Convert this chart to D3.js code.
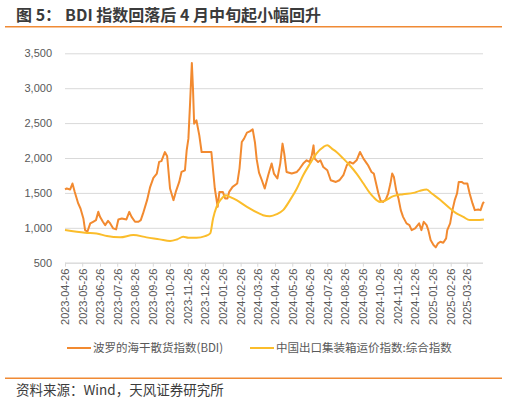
<!DOCTYPE html>
<html>
<head>
<meta charset="utf-8">
<script src="https://cdn.jsdelivr.net/npm/d3@7"></script>
<style>
  html, body { margin: 0; padding: 0; background: #ffffff; }
  svg { display: block; }
</style>
</head>
<body>
<svg id="chart" width="508" height="401"></svg>
<script>
// ---------------- data ----------------
const titlePrefix = "图 5：";
const titleMain = "BDI 指数回落后 4 月中旬起小幅回升";
const sourceText = "资料来源：Wind，天风证券研究所";
const seriesNames = ["波罗的海干散货指数(BDI)", "中国出口集装箱运价指数:综合指数"];

const bdiDates = [
  "2023-04-26","2023-04-29","2023-05-05","2023-05-09","2023-05-13","2023-05-19","2023-05-23","2023-05-28",
  "2023-05-31","2023-06-04","2023-06-09","2023-06-14","2023-06-19","2023-06-23","2023-06-26","2023-07-01",
  "2023-07-05","2023-07-10","2023-07-13","2023-07-19","2023-07-24","2023-07-28","2023-08-03","2023-08-11",
  "2023-08-16","2023-08-20","2023-08-26","2023-09-01","2023-09-05","2023-09-09","2023-09-16","2023-09-21",
  "2023-09-27","2023-10-03","2023-10-07","2023-10-11","2023-10-17","2023-10-21","2023-10-26","2023-11-01",
  "2023-11-05","2023-11-11","2023-11-15","2023-11-21","2023-11-24","2023-11-27","2023-11-30","2023-12-03",
  "2023-12-05","2023-12-07","2023-12-11","2023-12-16","2023-12-20","2024-01-06","2024-01-12","2024-01-17",
  "2024-01-20","2024-01-26","2024-01-30","2024-02-03","2024-02-06","2024-02-12","2024-02-20","2024-02-24",
  "2024-02-28","2024-03-03","2024-03-08","2024-03-13","2024-03-18","2024-03-22","2024-03-25","2024-03-29",
  "2024-04-03","2024-04-08","2024-04-14","2024-04-20","2024-04-24","2024-04-30","2024-05-05","2024-05-09",
  "2024-05-12","2024-05-16","2024-05-25","2024-06-03","2024-06-08","2024-06-14","2024-06-20","2024-06-25",
  "2024-06-29","2024-07-02","2024-07-04","2024-07-10","2024-07-14","2024-07-19","2024-07-26","2024-08-01",
  "2024-08-10","2024-08-16","2024-08-23","2024-08-29","2024-09-03","2024-09-09","2024-09-15","2024-09-21",
  "2024-09-27","2024-10-03","2024-10-05","2024-10-11","2024-10-15","2024-10-19","2024-10-23","2024-10-27",
  "2024-10-31","2024-11-05","2024-11-09","2024-11-13","2024-11-16","2024-11-19","2024-11-23","2024-11-27",
  "2024-12-01","2024-12-05","2024-12-11","2024-12-16","2024-12-20","2024-12-26","2025-01-02","2025-01-06",
  "2025-01-10","2025-01-15","2025-01-18","2025-01-22","2025-01-27","2025-01-31","2025-02-04","2025-02-08",
  "2025-02-13","2025-02-18","2025-02-20","2025-02-25","2025-03-01","2025-03-05","2025-03-09","2025-03-12",
  "2025-03-17","2025-03-21","2025-03-27","2025-03-31","2025-04-05","2025-04-09","2025-04-15","2025-04-19",
  "2025-04-23","2025-04-25"
];
const bdiValues = [
  1550,1563,1549,1634,1514,1349,1277,1134,
  967,943,1063,1086,1110,1229,1157,1086,
  1039,1100,1071,991,977,1120,1134,1120,
  1229,1157,1086,1086,1110,1206,1396,1575,
  1715,1777,1945,1955,2085,2025,1563,1396,
  1514,1657,1800,1824,2110,2277,2800,3360,
  2991,2491,2539,2324,2086,2086,1563,1300,
  1514,1514,1420,1420,1514,1586,1634,1849,
  2229,2277,2363,2381,2410,2220,1980,1790,
  1681,1563,1753,1920,1777,1706,1920,2206,
  2063,1800,1777,1800,1849,1920,1967,1943,
  2039,2181,1991,1943,1967,1871,1824,1681,
  1657,1681,1753,1896,1943,1920,1967,2086,
  1991,1920,1896,1800,1777,1634,1491,1386,
  1371,1406,1491,1634,1777,1729,1539,1420,
  1253,1157,1063,1039,967,991,1063,967,
  1086,1039,967,824,753,720,777,800,
  786,849,967,1063,1253,1396,1491,1657,
  1657,1634,1634,1491,1349,1253,1263,1253,
  1349,1371
];

const ccfiDates = [
  "2023-04-26","2023-05-31","2023-06-20","2023-07-08","2023-07-31","2023-08-23","2023-09-15","2023-10-08",
  "2023-10-26","2023-11-07","2023-11-18","2023-11-27","2023-12-11","2023-12-26","2024-01-04","2024-01-09",
  "2024-01-15","2024-01-24","2024-01-31","2024-02-07","2024-02-19","2024-03-08","2024-03-29","2024-04-05",
  "2024-04-17","2024-04-29","2024-05-10","2024-05-22","2024-06-03","2024-06-14","2024-06-26","2024-07-07",
  "2024-07-19","2024-07-26","2024-08-03","2024-08-11","2024-08-23","2024-09-03","2024-09-15","2024-09-27",
  "2024-10-08","2024-10-14","2024-10-26","2024-11-03","2024-11-18","2024-12-05","2024-12-23","2025-01-03",
  "2025-01-15","2025-01-24","2025-02-07","2025-02-25","2025-03-08","2025-03-20","2025-03-31","2025-04-12",
  "2025-04-25"
];
const ccfiValues = [
  967,929,920,881,863,896,863,834,
  810,833,871,857,857,881,920,1134,
  1300,1420,1467,1443,1396,1300,1206,1181,
  1167,1196,1253,1396,1563,1753,1920,2063,
  2157,2181,2134,2086,1991,1896,1777,1634,
  1500,1443,1371,1386,1453,1481,1500,1529,
  1549,1491,1406,1277,1206,1157,1110,1110,
  1120
];

const yTicks = [500, 1000, 1500, 2000, 2500, 3000, 3500];
const xTickLabels = [
  "2023-04-26","2023-05-26","2023-06-26","2023-07-26","2023-08-26","2023-09-26","2023-10-26","2023-11-26",
  "2023-12-26","2024-01-26","2024-02-26","2024-03-26","2024-04-26","2024-05-26","2024-06-26","2024-07-26",
  "2024-08-26","2024-09-26","2024-10-26","2024-11-26","2024-12-26","2025-01-26","2025-02-26","2025-03-26"
];
const xDomain = ["2023-04-26", "2025-04-25"];

// ---------------- drawing ----------------
const colors = { bdi: "#F28A30", ccfi: "#FBBD2B", grid: "#D9D9D9", text: "#595959", rule: "#F08A34" };
const latin = "'Liberation Sans', Arial, 'Noto Sans CJK SC', sans-serif";
const cjk = "'Noto Sans CJK SC', 'Liberation Sans', sans-serif";
const parse = d3.timeParse("%Y-%m-%d");

const svg = d3.select("#chart");
const plot = { left: 65, right: 484, top: 53.3, bottom: 262.7 };

const x = d3.scaleTime().domain(xDomain.map(parse)).range([plot.left, plot.right]);
const y = d3.scaleLinear().domain([500, 3500]).range([plot.bottom, plot.top]);

// title
const title = svg.append("text")
  .attr("x", 16).attr("y", 21)
  .attr("font-family", cjk).attr("font-size", 16).attr("font-weight", "bold")
  .attr("fill", "#3B3B3B");
title.append("tspan").text(titlePrefix);
title.append("tspan").attr("dx", 4).text(titleMain);
svg.append("line").attr("x1", 5).attr("x2", 502).attr("y1", 26.7).attr("y2", 26.7)
  .attr("stroke", colors.rule).attr("stroke-width", 1.5);

// grid + y labels
const yAxis = d3.axisLeft(y).tickValues(yTicks).tickSize(-(plot.right - 1 - plot.left)).tickPadding(13)
  .tickFormat(d3.format(","));
const gy = svg.append("g").attr("transform", `translate(${plot.left},0)`).call(yAxis);
gy.select(".domain").remove();
gy.selectAll(".tick line").attr("stroke", colors.grid).attr("stroke-width", 1);
gy.selectAll(".tick text").attr("fill", colors.text).attr("font-family", latin).attr("font-size", 11);

// x axis
const xAxis = d3.axisBottom(x).tickValues(xTickLabels.map(parse)).tickSize(4).tickPadding(4)
  .tickFormat(d3.timeFormat("%Y-%m-%d"));
const gx = svg.append("g").attr("transform", `translate(0,${plot.bottom})`).call(xAxis);
gx.select(".domain").attr("stroke", colors.grid).attr("d", `M${plot.left},0.5H${plot.right - 1}`);
gx.selectAll(".tick line").attr("stroke", colors.grid);
gx.selectAll(".tick text")
  .attr("fill", colors.text).attr("font-family", latin).attr("font-size", 11)
  .attr("text-anchor", "end").attr("dy", "0.35em")
  .attr("transform", "rotate(-90)")
  .attr("x", -6).attr("y", 0);

// lines
const line = d3.line().x(d => x(d[0])).y(d => y(d[1]));
const bdi = bdiDates.map((d, i) => [parse(d), bdiValues[i]]);
const ccfi = ccfiDates.map((d, i) => [parse(d), ccfiValues[i]]);

svg.append("path").datum(bdi).attr("d", line)
  .attr("fill", "none").attr("stroke", colors.bdi).attr("stroke-width", 2)
  .attr("stroke-linejoin", "round");
svg.append("path").datum(ccfi).attr("d", line.curve(d3.curveMonotoneX))
  .attr("fill", "none").attr("stroke", colors.ccfi).attr("stroke-width", 2)
  .attr("stroke-linejoin", "round");

// legend
const legend = [
  { name: seriesNames[0], color: colors.bdi, x: 67 },
  { name: seriesNames[1], color: colors.ccfi, x: 250 }
];
const lg = svg.append("g").attr("transform", "translate(0,348)");
legend.forEach(l => {
  lg.append("line").attr("x1", l.x).attr("x2", l.x + 24).attr("y1", 0).attr("y2", 0)
    .attr("stroke", l.color).attr("stroke-width", 2);
  lg.append("text").attr("x", l.x + 26).attr("y", 0).attr("dy", "0.35em")
    .attr("font-family", cjk).attr("font-size", 11.5).attr("fill", colors.text)
    .text(l.name);
});

// footer
svg.append("line").attr("x1", 5).attr("x2", 502).attr("y1", 378.3).attr("y2", 378.3)
  .attr("stroke", colors.rule).attr("stroke-width", 1.5);
svg.append("text")
  .attr("x", 16).attr("y", 390).attr("dy", "0.35em")
  .attr("font-family", cjk).attr("font-size", 13.5).attr("fill", "#3B3B3B")
  .text(sourceText);
</script>
</body>
</html>
